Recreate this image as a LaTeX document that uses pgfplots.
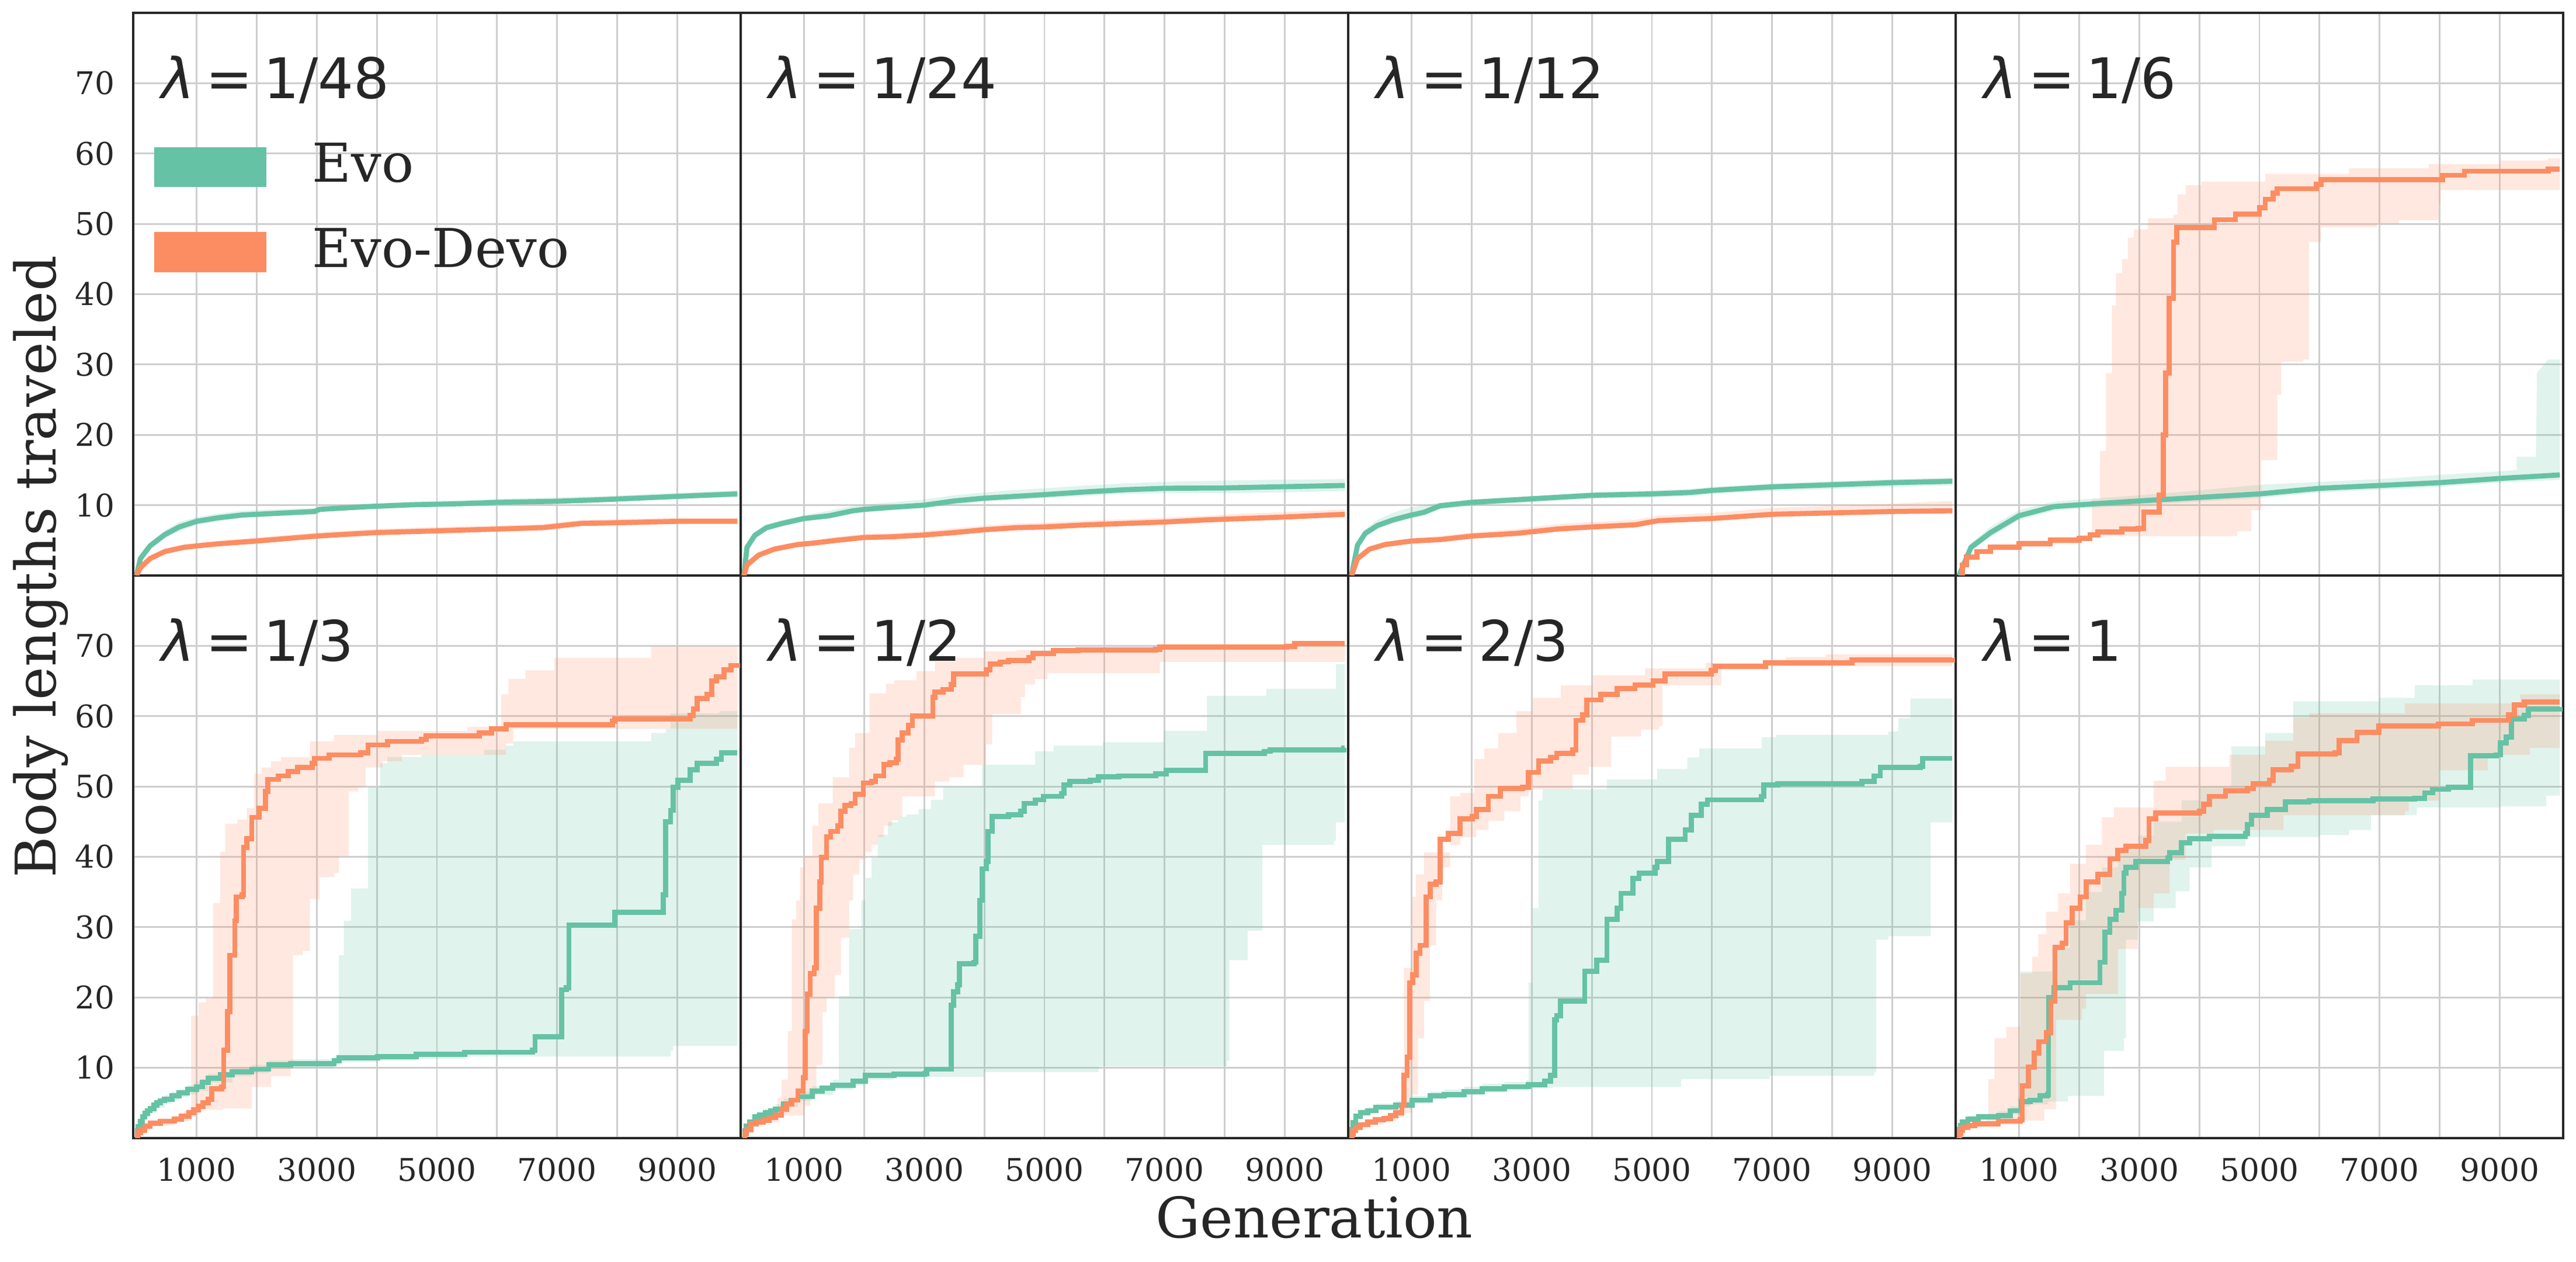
\documentclass[border=0pt]{standalone}
\usepackage{fontspec}
\setmainfont{DejaVu Serif}
\newfontfamily\lamfam{DejaVu Sans}
\usepackage{pgfplots}
\pgfplotsset{compat=1.18}
\usepgfplotslibrary{fillbetween}
\definecolor{evo}{RGB}{102,194,165}
\definecolor{devo}{RGB}{252,141,98}
\definecolor{axc}{RGB}{38,38,38}
\definecolor{gridc}{RGB}{206,206,206}

\newcommand{\lam}[1]{\node[anchor=base west, inner sep=0pt, font=\lamfam\fontsize{23}{27}\selectfont, text=axc] at (rel axis cs:0.046,0.848) {\textit{λ}\hspace{4.5pt}=\hspace{4.5pt}#1};}
\newcommand{\band}[5]{%
 \addplot[draw=none, forget plot, #3, name path=#1u] coordinates {#4};
 \addplot[draw=none, forget plot, #3, name path=#1l] coordinates {#5};
 \addplot[fill=#2, fill opacity=0.2, draw=none, forget plot] fill between[of=#1u and #1l];
}
\pgfplotsset{
 panel/.style={
  scale only axis, width=249.6pt, height=231.1pt,
  xmin=-55, xmax=10055, ymin=0, ymax=80,
  scaled ticks=false,
  xtick={1000,3000,5000,7000,9000}, minor xtick={2000,4000,6000,8000},
  ytick={10,20,30,40,50,60,70},
  xticklabels={}, yticklabels={},
  grid=both,
  major grid style={line width=0.7pt, draw=gridc},
  minor grid style={line width=0.7pt, draw=gridc},
  major tick length=0pt, minor tick length=0pt,
  tick style={draw=none},
  axis line style={line width=0.9pt, draw=axc},
  ticklabel style={font=\fontsize{12.8}{15}\selectfont, text=axc},
  yticklabel style={xshift=-4pt},
  xticklabel style={yshift=-4.6pt},
  anchor=south west,
 },
 xlab/.style={xticklabels={1000,3000,5000,7000,9000}},
 ylab/.style={yticklabels={10,20,30,40,50,60,70}},
 med/.style={line width=2.1pt, forget plot},
}

\begin{document}
\begin{tikzpicture}

% ---------------- lambda = 1/48
\begin{axis}[panel, ylab, at={(54.72pt,282pt)},
  legend cell align=left,
  legend style={at={(rel axis cs:0.0346,0.7685)}, anchor=north west, draw=none, fill=none,
    inner sep=0pt, outer sep=0pt, font=\fontsize{22}{26}\selectfont, text=axc,
    row sep=16.85pt, nodes={inner sep=0pt},
    /tikz/every odd column/.append style={column sep=19pt}}]
\band{ga}{evo}{sharp plot}{(0,0)(65,2.7)(225,4.7)(470,6.4)(710,7.6)(1000,8.3)(1355,8.8)(1760,9.2)(2240,9.4)(2965,9.6)(3050,9.9)(3855,10.2)(4580,10.5)(5390,10.7)(6030,10.9)(7000,11.1)(7805,11.3)(8610,11.6)(9420,11.9)(10000,12.1)}{(0,0)(65,2.1)(225,3.8)(470,5.3)(710,6.3)(1000,7.2)(1355,7.7)(1760,8.2)(2240,8.4)(2965,8.7)(3050,9.1)(3855,9.4)(4580,9.7)(5390,9.9)(6030,10.1)(7000,10.3)(7805,10.5)(8610,10.8)(9420,11.0)(10000,11.2)}
\band{oa}{devo}{sharp plot}{(0,0)(65,1.4)(225,2.8)(470,3.8)(790,4.4)(1000,4.6)(1355,4.9)(2000,5.4)(2565,5.8)(3000,6.1)(3370,6.3)(4000,6.6)(5010,6.9)(6010,7.1)(6760,7.3)(7080,7.6)(7400,7.9)(8010,8.0)(9015,8.2)(10000,8.2)}{(0,0)(65,0.9)(225,2.1)(470,3.1)(790,3.7)(1000,3.9)(1355,4.2)(2000,4.6)(2565,5.0)(3000,5.3)(3370,5.5)(4000,5.8)(5010,6.05)(6010,6.3)(6760,6.5)(7080,6.8)(7400,7.1)(8010,7.2)(9015,7.4)(10000,7.4)}
\addplot[med, evo] coordinates {(0,0)(65,2.4)(225,4.2)(470,5.8)(710,6.9)(1000,7.7)(1355,8.2)(1760,8.6)(2240,8.8)(2965,9.1)(3050,9.4)(3855,9.8)(4580,10.05)(5390,10.2)(6030,10.4)(7000,10.55)(7805,10.8)(8610,11.1)(9420,11.4)(10000,11.6)};
\addplot[med, devo] coordinates {(0,0)(65,1.1)(225,2.4)(470,3.4)(790,4.0)(1000,4.2)(1355,4.5)(2000,4.9)(2565,5.3)(3000,5.6)(3370,5.8)(4000,6.1)(5010,6.35)(6010,6.6)(6760,6.8)(7080,7.1)(7400,7.4)(8010,7.5)(9015,7.7)(10000,7.7)};
\addlegendimage{legend image code/.code={\fill[evo] (0pt,-9.15pt) rectangle (45.6pt,6.95pt);}}
\addlegendentry{Evo}
\addlegendimage{legend image code/.code={\fill[devo] (0pt,-9.15pt) rectangle (45.6pt,6.95pt);}}
\addlegendentry{Evo-Devo}
\lam{1/48}
\end{axis}

% ---------------- lambda = 1/24
\begin{axis}[panel, at={(304.32pt,282pt)}]
\band{gb}{evo}{sharp plot}{(0,0)(50,4.4)(180,6.2)(375,7.3)(635,7.9)(1000,8.6)(1420,9.2)(1810,9.9)(2000,10.1)(2460,10.4)(3000,10.8)(3500,11.4)(4000,11.8)(4410,12.1)(5000,12.4)(5710,12.8)(6360,13.1)(7000,13.3)(8000,13.5)(8840,13.6)(10000,13.7)}{(0,0)(50,3.6)(180,5.3)(375,6.4)(635,7.0)(1000,7.7)(1420,8.1)(1810,8.8)(2000,9.0)(2460,9.3)(3000,9.6)(3500,10.1)(4000,10.5)(4410,10.7)(5000,11.0)(5710,11.3)(6360,11.6)(7000,11.7)(8000,11.7)(8840,11.8)(10000,12.0)}
\band{ob}{devo}{sharp plot}{(0,0)(50,1.8)(245,3.2)(505,4.1)(895,4.8)(1155,5.0)(1545,5.5)(2000,5.9)(2460,6.0)(3000,6.3)(3500,6.7)(4000,7.1)(4540,7.4)(5000,7.5)(5710,7.8)(6360,8.0)(7000,8.2)(7670,8.5)(8320,8.8)(8970,9.0)(10000,9.4)}{(0,0)(50,1.2)(245,2.6)(505,3.45)(895,4.1)(1155,4.3)(1545,4.7)(2000,5.1)(2460,5.2)(3000,5.45)(3500,5.8)(4000,6.2)(4540,6.5)(5000,6.6)(5710,6.9)(6360,7.1)(7000,7.3)(7670,7.6)(8320,7.8)(8970,8.0)(10000,8.4)}
\addplot[med, evo] coordinates {(0,0)(50,4.0)(180,5.7)(375,6.8)(635,7.4)(1000,8.1)(1420,8.5)(1810,9.2)(2000,9.4)(2460,9.7)(3000,10.0)(3500,10.6)(4000,11.0)(4410,11.2)(5000,11.5)(5710,11.9)(6360,12.2)(7000,12.4)(8000,12.45)(8840,12.6)(10000,12.8)};
\addplot[med, devo] coordinates {(0,0)(50,1.5)(245,2.9)(505,3.75)(895,4.4)(1155,4.6)(1545,5.0)(2000,5.4)(2460,5.5)(3000,5.75)(3500,6.1)(4000,6.5)(4540,6.8)(5000,6.9)(5710,7.2)(6360,7.4)(7000,7.6)(7670,7.9)(8320,8.1)(8970,8.3)(10000,8.7)};
\lam{1/24}
\end{axis}

% ---------------- lambda = 1/12
\begin{axis}[panel, at={(553.92pt,282pt)}]
\band{gc}{evo}{sharp plot}{(0,0)(100,4.8)(230,6.6)(430,7.9)(690,8.9)(950,9.6)(1210,10.0)(1470,10.4)(2000,10.8)(3000,11.3)(4000,11.8)(5000,12.1)(5630,12.3)(6000,12.6)(7000,13.1)(8000,13.4)(9000,13.7)(10000,13.9)}{(0,0)(100,3.9)(230,5.5)(430,6.6)(690,7.4)(950,8.0)(1210,8.5)(1470,9.4)(2000,9.9)(3000,10.4)(4000,10.9)(5000,11.1)(5630,11.3)(6000,11.6)(7000,12.0)(8000,12.3)(9000,12.6)(10000,12.8)}
\band{oc}{devo}{sharp plot}{(0,0)(100,2.7)(300,4.1)(560,4.8)(1000,5.3)(1470,5.6)(2000,6.1)(2770,6.6)(3420,7.3)(4000,7.6)(4720,7.9)(5110,8.5)(6000,8.9)(7000,9.6)(8000,9.9)(9000,10.2)(10000,10.6)}{(0,0)(100,2.1)(300,3.45)(560,4.1)(1000,4.6)(1470,4.8)(2000,5.3)(2770,5.7)(3420,6.3)(4000,6.6)(4720,6.9)(5110,7.5)(6000,7.8)(7000,8.4)(8000,8.6)(9000,8.8)(10000,8.9)}
\addplot[med, evo] coordinates {(0,0)(100,4.3)(230,6.0)(430,7.1)(690,7.9)(950,8.5)(1210,9.0)(1470,9.9)(2000,10.4)(3000,10.9)(4000,11.4)(5000,11.6)(5630,11.8)(6000,12.1)(7000,12.6)(8000,12.9)(9000,13.2)(10000,13.4)};
\addplot[med, devo] coordinates {(0,0)(100,2.4)(300,3.75)(560,4.4)(1000,4.9)(1470,5.1)(2000,5.6)(2770,6.0)(3420,6.6)(4000,6.9)(4720,7.2)(5110,7.8)(6000,8.1)(7000,8.7)(8000,8.9)(9000,9.1)(10000,9.2)};
\lam{1/12}
\end{axis}

% ---------------- lambda = 1/6
\begin{axis}[panel, at={(803.52pt,282pt)}]
\band{gd}{evo}{sharp plot}{(0,0)(200,4.6)(525,6.9)(1000,9.3)(1580,10.5)(2000,10.8)(3000,11.4)(4000,12.1)(5000,12.9)(6000,13.3)(7000,13.7)(8000,14.3)(9000,14.8)(9280,15.0)(9280,16.9)(9600,16.9)(9620,28.8)(9800,30.7)(10000,30.7)}{(0,0)(200,3.5)(525,5.5)(1000,7.9)(1580,9.2)(2000,9.5)(3000,10.0)(4000,10.5)(5000,11.0)(6000,11.8)(7000,12.2)(8000,12.6)(9000,13.2)(10000,13.6)}
\band{od}{devo}{const plot}{(0,0)(60,1.8)(125,3.0)(300,3.8)(520,4.4)(1000,5.0)(1520,5.5)(2000,5.8)(2213,10.8)(2346,17.7)(2446,28.8)(2545,38.4)(2611,43)(2711,45)(2810,48)(2910,49.2)(3142,50.8)(3573,51.3)(3639,54.2)(3772,55.5)(4037,56.0)(5098,57.1)(6490,57.9)(7817,58.5)(9010,59.0)(9800,59.3)(10000,59.3)}{(0,0)(60,1.2)(125,2.3)(300,3.0)(520,3.6)(1000,4.1)(1520,4.5)(2000,5.0)(2147,5.6)(4634,6.3)(4866,9.3)(5032,16.4)(5297,25.7)(5363,30.4)(5728,30.7)(5827,47.4)(6026,49.5)(6954,50.0)(7319,50.5)(7983,52.9)(8016,54.8)(10000,55.0)}
\addplot[med, evo] coordinates {(0,0)(200,4.0)(525,6.1)(1000,8.5)(1580,9.8)(2000,10.05)(3000,10.6)(4000,11.1)(5000,11.6)(6000,12.4)(7000,12.8)(8000,13.2)(9000,13.8)(10000,14.3)};
\addplot[med, devo, const plot] coordinates {(0,0)(60,1.5)(125,2.6)(300,3.4)(520,4.0)(1000,4.5)(1520,5.0)(2000,5.3)(2180,5.8)(2310,6.2)(2710,6.6)(2980,6.7)(3075,9.0)(3330,11.4)(3400,20)(3440,28.8)(3500,39.4)(3570,47.4)(3626,49.5)(4250,50.6)(4600,51.4)(5000,52.3)(5098,53.5)(5231,54.4)(5297,55.0)(5947,55.6)(6026,56.3)(8049,56.9)(8413,57.5)(9806,57.8)(10000,57.8)};
\lam{1/6}
\end{axis}

% ---------------- lambda = 1/3
\begin{axis}[panel, ylab, xlab, at={(54.72pt,50.9pt)}]
\band{ge}{evo}{const plot}{(0,0)(30,1.8)(65,2.9)(140,4.0)(226,4.8)(340,5.5)(468,6.1)(590,6.6)(710,7.0)(850,7.5)(1000,8.0)(1193,9.1)(1596,10.0)(1919,10.4)(2201,11.0)(2563,11.2)(3288,11.6)(3369,26.0)(3450,30.9)(3571,35.5)(3853,49.9)(4054,53.3)(4175,54.2)(4739,54.5)(5787,55.2)(6149,55.8)(6270,56.4)(8567,57.6)(8808,58.2)(8889,60.4)(9700,60.7)(10000,60.7)}{(0,0)(30,1.0)(65,1.9)(140,3.0)(226,3.6)(340,4.3)(468,4.9)(590,5.4)(710,5.8)(850,6.2)(1000,6.7)(1193,7.9)(1596,8.8)(1919,9.2)(2201,9.8)(2563,10.0)(3288,10.4)(3369,10.8)(4014,11.0)(4658,11.3)(5464,11.6)(8889,12.4)(8929,13.1)(10000,13.3)}
\band{oe}{devo}{const plot}{(0,0)(30,0.8)(65,1.2)(140,2.0)(226,2.5)(629,3.2)(790,3.9)(911,17.4)(1032,19.3)(1153,19.9)(1274,33.4)(1395,40.7)(1475,44.7)(1677,45.3)(1838,46.9)(1959,51.8)(2080,52.7)(2241,53.6)(2402,54.2)(2886,56.4)(3289,57.3)(4014,57.9)(5504,58.5)(6069,63.1)(6189,65.3)(6471,66.5)(6955,68.3)(8567,69.9)(10000,69.9)}{(0,0)(30,0.4)(65,0.7)(140,1.3)(226,1.8)(629,2.4)(871,3.3)(1032,4.0)(1435,4.2)(1919,7.3)(2241,8.8)(2563,9.8)(2604,26.0)(2765,26.6)(2886,34.0)(3047,37.1)(3289,37.7)(3369,40.1)(3530,49.3)(3691,49.9)(3812,52.7)(4094,53.6)(4417,54.5)(6149,56.1)(6270,58.2)(10000,58.5)}
\addplot[med, evo, const plot] coordinates {(0,0)(15,1.0)(30,1.6)(65,2.4)(100,3.0)(140,3.5)(180,3.9)(226,4.2)(290,4.7)(340,5.0)(400,5.3)(468,5.5)(590,6.0)(710,6.4)(850,6.9)(1000,7.3)(1100,7.9)(1193,8.5)(1400,9.0)(1596,9.4)(1919,9.8)(2201,10.4)(2563,10.6)(3288,11.0)(3369,11.4)(4014,11.6)(4658,11.9)(5464,12.2)(6592,12.5)(6633,14.4)(7076,21.1)(7156,21.4)(7197,30.3)(7962,32.1)(8768,34.6)(8808,45.0)(8889,46.6)(8929,49.9)(9010,50.9)(9211,52.4)(9332,53.3)(9655,53.9)(9735,54.8)(10000,54.8)};
\addplot[med, devo, const plot] coordinates {(0,0)(15,0.5)(30,0.8)(65,1.1)(140,1.7)(226,2.1)(400,2.4)(629,2.7)(750,3.1)(871,3.6)(950,4.0)(1032,4.5)(1110,5.0)(1193,5.5)(1250,7.0)(1419,7.3)(1451,12.5)(1516,18.0)(1556,26.0)(1637,30.9)(1661,34.3)(1757,34.6)(1782,41.3)(1838,42.6)(1919,45.6)(2039,46.9)(2144,49.3)(2185,51.0)(2362,51.5)(2523,52.1)(2684,52.7)(2926,53.3)(2966,54.0)(3208,54.5)(3732,54.8)(3853,55.9)(4175,56.4)(4739,56.7)(4820,57.2)(5706,57.6)(5907,58.2)(6149,58.8)(7922,59.3)(7962,59.6)(9211,60.1)(9268,61.0)(9333,62.5)(9494,63.1)(9574,65.0)(9655,65.6)(9776,66.6)(9897,67.2)(10000,67.5)};
\lam{1/3}
\end{axis}

% ---------------- lambda = 1/2
\begin{axis}[panel, xlab, at={(304.32pt,50.9pt)}]
\band{gf}{evo}{const plot}{(0,0)(13,1.2)(60,2.4)(120,3.1)(183,3.5)(353,4.2)(524,4.8)(660,5.6)(898,6.6)(1136,7.4)(1476,8.3)(1579,20.2)(1749,29.7)(1953,33.8)(2021,37.0)(2123,39.9)(2225,43.1)(2395,44.9)(2566,45.7)(2702,46.0)(2906,46.8)(3110,48.1)(3314,49.9)(3961,53.1)(4846,55.0)(5152,55.8)(5969,56.3)(6990,57.9)(7705,62.9)(8692,63.9)(9849,67.4)(10000,68.0)}{(0,0)(13,0.7)(60,1.6)(120,2.1)(183,2.5)(353,3.1)(524,3.6)(660,4.4)(898,5.3)(1136,6.1)(1476,6.9)(1817,7.5)(2021,8.3)(2498,8.6)(3008,8.7)(3995,9.4)(5901,10.2)(8045,11.0)(8079,25.3)(8385,29.5)(8624,41.7)(9815,42.3)(9849,44.9)(10000,44.9)}
\band{of}{devo}{const plot}{(0,0)(13,0.8)(60,1.6)(115,2.4)(200,2.7)(319,3.0)(455,3.6)(558,5.7)(626,8.3)(728,15.2)(796,31.1)(864,33.8)(932,38.5)(1000,40.1)(1136,44.4)(1238,47.6)(1476,51.3)(1749,55.5)(1851,57.6)(2089,63.2)(2361,64.6)(2498,65.1)(2872,66.4)(3178,67.7)(3519,68.3)(3995,69.2)(4540,69.4)(7000,70.0)(9000,70.4)(10000,70.6)}{(0,0)(13,0.4)(60,1.0)(115,1.7)(200,2.0)(319,2.2)(592,3.2)(1000,4.6)(1102,6.2)(1204,10.4)(1306,17.9)(1374,20.0)(1511,23.2)(1613,28.5)(1749,33.8)(1817,37.5)(1919,39.6)(2021,40.7)(2123,41.7)(2225,42.8)(2327,44.4)(2463,45.2)(2566,45.7)(2634,48.6)(3178,50.7)(3416,51.3)(3655,53.1)(4029,56.0)(4131,60.3)(4608,62.7)(4676,64.5)(4846,65.3)(5050,66.1)(6922,67.7)(10000,68.8)}
\addplot[med, evo, const plot] coordinates {(0,0)(13,1.0)(40,1.7)(90,2.3)(183,3.0)(260,3.3)(353,3.6)(440,3.9)(524,4.1)(660,4.9)(780,5.4)(898,5.9)(1136,6.7)(1300,7.1)(1476,7.5)(1817,8.1)(2021,8.9)(2498,9.1)(3008,9.2)(3042,9.8)(3450,18.9)(3485,20.8)(3553,21.8)(3587,24.8)(3825,25.0)(3859,28.7)(3927,33.8)(3961,38.3)(4029,39.3)(4063,43.6)(4131,45.7)(4404,46.0)(4608,46.5)(4662,47.6)(4846,48.1)(4982,48.6)(5288,49.0)(5322,50.2)(5424,50.7)(5765,50.9)(5901,51.4)(6241,51.5)(6854,51.8)(7024,52.3)(7684,54.7)(8658,55.0)(8760,55.2)(9985,55.5)(10000,55.5)};
\addplot[med, devo, const plot] coordinates {(0,0)(13,0.6)(40,1.2)(115,2.0)(200,2.3)(319,2.5)(420,2.9)(524,3.3)(626,4.1)(710,4.8)(796,5.4)(898,6.7)(986,8.6)(1020,15.2)(1054,20.5)(1102,23.4)(1170,24.2)(1204,32.7)(1259,36.4)(1286,39.9)(1374,42.8)(1442,43.6)(1558,44.4)(1613,46.5)(1681,47.3)(1783,47.6)(1851,48.9)(1987,50.5)(2123,50.7)(2191,51.5)(2327,53.1)(2429,53.4)(2532,53.9)(2566,56.6)(2634,57.6)(2736,58.7)(2804,60.0)(3144,62.7)(3178,63.4)(3314,63.8)(3450,64.5)(3485,66.0)(4029,66.6)(4097,67.4)(4267,67.7)(4404,67.9)(4744,68.3)(4812,68.9)(5152,69.3)(5561,69.4)(6854,69.5)(6922,69.8)(9032,69.9)(9168,70.3)(10000,70.3)};
\lam{1/2}
\end{axis}

% ---------------- lambda = 2/3
\begin{axis}[panel, xlab, at={(553.92pt,50.9pt)}]
\band{gg}{evo}{const plot}{(0,0)(20,1.8)(70,3.5)(150,4.1)(271,4.4)(405,4.9)(739,5.3)(1007,6.0)(1308,6.6)(1542,6.9)(1876,7.3)(2177,7.7)(2545,8.0)(2913,8.3)(2947,22.1)(3013,32.7)(3114,48.0)(3181,49.6)(4251,51.0)(5087,52.5)(5589,54.1)(5789,55.4)(6826,57.0)(7060,57.3)(8933,57.8)(9100,59.7)(9301,62.5)(10000,62.6)}{(0,0)(20,1.0)(70,2.7)(150,3.2)(271,3.5)(405,3.9)(739,4.2)(1007,4.9)(1308,5.5)(1542,5.7)(1876,6.1)(2177,6.5)(2545,6.8)(2947,7.1)(3348,7.3)(5488,8.4)(6960,8.9)(8699,9.4)(8733,28.2)(8933,28.7)(9636,44.9)(10000,45.1)}
\band{og}{devo}{const plot}{(0,0)(20,0.9)(70,1.8)(150,2.3)(271,2.7)(538,3.3)(739,4.1)(839,10.0)(873,24.2)(1007,34.3)(1074,37.5)(1207,40.6)(1642,48.6)(1809,49.1)(2043,53.9)(2211,55.4)(2445,57.6)(2746,60.7)(3013,62.6)(3482,64.4)(4017,65.8)(4886,66.8)(5890,67.6)(7228,68.4)(7896,68.8)(10000,68.9)}{(0,0)(20,0.5)(70,1.2)(150,1.6)(271,2.0)(538,2.5)(739,3.0)(873,3.6)(1007,6.2)(1107,14.2)(1207,19.5)(1308,27.4)(1408,33.8)(1508,38.5)(1642,41.7)(1809,42.8)(2077,43.8)(2278,45.1)(2545,46.5)(2813,48.6)(2947,49.6)(3682,51.7)(3950,52.8)(4318,57.1)(4819,58.1)(5120,58.6)(5174,64.4)(6157,66.8)(6893,67.1)(10000,67.5)}
\addplot[med, evo, const plot] coordinates {(0,0)(10,1.2)(30,2.2)(70,3.1)(150,3.6)(271,3.9)(405,4.4)(739,4.7)(1007,5.4)(1308,6.0)(1542,6.2)(1876,6.6)(2177,7.0)(2545,7.3)(2947,7.6)(3214,8.1)(3314,8.9)(3381,16.8)(3415,17.4)(3482,19.5)(3883,23.7)(4084,25.3)(4251,31.1)(4418,32.7)(4485,34.8)(4686,36.9)(4786,37.7)(5054,38.5)(5087,39.3)(5274,42.5)(5555,43.8)(5656,45.9)(5823,47.5)(5923,48.1)(6826,48.6)(6860,50.2)(7094,50.4)(8498,50.7)(8699,51.5)(8800,52.7)(9468,52.9)(9502,54.0)(10000,54.0)};
\addplot[med, devo, const plot] coordinates {(0,0)(10,0.6)(30,1.1)(70,1.5)(150,1.9)(271,2.3)(400,2.6)(538,2.8)(650,3.2)(739,3.6)(839,4.7)(873,8.9)(926,11.5)(973,22.1)(1020,23.2)(1074,26.3)(1140,27.4)(1241,34.3)(1308,36.1)(1408,36.4)(1475,42.5)(1609,43.3)(1809,45.4)(2010,45.7)(2077,46.7)(2278,48.6)(2478,49.7)(2846,49.9)(2947,52.0)(3114,53.6)(3314,54.1)(3415,54.7)(3682,55.2)(3736,59.4)(3850,60.2)(3916,62.3)(4151,63.1)(4418,63.9)(4719,64.4)(5020,65.0)(5221,66.0)(5990,66.5)(6057,67.1)(6893,67.6)(8331,68.0)(10000,68.3)};
\lam{2/3}
\end{axis}

% ---------------- lambda = 1
\begin{axis}[panel, xlab, at={(803.52pt,50.9pt)}]
\band{gh}{evo}{const plot}{(0,0)(20,1.5)(58,2.7)(150,3.2)(324,3.5)(655,3.8)(854,4.5)(987,6.0)(1020,23.7)(1550,27.0)(1849,31.0)(2114,35.0)(2379,38.5)(2645,41.0)(2976,43.0)(3241,45.0)(3705,48.0)(4004,50.0)(4534,55.7)(5098,57.6)(5562,62.1)(6988,62.6)(7584,64.4)(8546,65.2)(10000,65.2)}{(0,0)(20,0.9)(58,1.9)(150,2.3)(324,2.6)(655,2.8)(854,3.4)(1040,4.5)(1186,4.8)(1484,5.2)(1816,6.0)(2412,12.4)(2744,14.2)(2777,28.2)(2976,30.8)(3241,32.7)(3606,35.1)(3838,38.5)(4203,41.5)(4766,42.8)(5993,43.1)(6490,43.8)(6855,45.9)(7618,47.0)(9010,47.2)(9773,48.7)(10000,48.7)}
\band{oh}{devo}{const plot}{(0,0)(20,0.9)(58,1.8)(150,2.1)(257,2.4)(456,2.8)(489,8.4)(589,14.2)(788,15.8)(1020,23.4)(1219,25.8)(1318,29.0)(1451,32.2)(1650,34.8)(1849,39.0)(2114,41.7)(2379,45.6)(2578,47.0)(3241,50.8)(3440,52.8)(4501,54.5)(5098,56.5)(5562,59.8)(5827,60.4)(7419,61.8)(9342,63.1)(10000,63.4)}{(0,0)(20,0.5)(58,1.2)(150,1.4)(257,1.6)(655,1.9)(1053,2.5)(1418,4.1)(1617,16.8)(2048,18.4)(2114,20.5)(2645,26.9)(2976,32.7)(3241,34.8)(3507,39.6)(3772,43.3)(4236,43.8)(5396,45.9)(7419,46.5)(7485,48.0)(7982,52.3)(8800,54.5)(9500,55.5)(10000,56.0)}
\addplot[med, evo, const plot] coordinates {(0,0)(10,1.2)(30,1.8)(58,2.3)(150,2.7)(324,3.0)(655,3.2)(854,3.9)(1040,5.2)(1186,5.4)(1351,6.0)(1471,6.2)(1491,20.0)(1584,21.4)(1849,22.1)(2346,25.0)(2432,29.3)(2512,31.1)(2611,32.4)(2711,34.8)(2744,37.7)(2777,38.5)(2943,39.3)(3473,39.8)(3507,40.6)(3705,42.0)(3838,42.6)(4170,42.9)(4766,43.3)(4800,44.6)(4866,45.9)(5131,46.7)(5430,47.8)(5827,48.0)(6888,48.2)(7584,48.3)(7750,49.1)(7883,49.6)(8148,49.9)(8513,54.4)(8944,54.5)(9010,56.2)(9110,57.0)(9196,59.6)(9408,60.1)(9474,61.0)(10000,61.3)};
\addplot[med, devo, const plot] coordinates {(0,0)(10,0.7)(30,1.1)(58,1.5)(150,1.8)(257,2.0)(655,2.4)(1020,2.6)(1053,7.4)(1153,10.1)(1252,12.1)(1332,13.7)(1451,15.0)(1530,19.5)(1597,27.1)(1716,27.7)(1782,30.6)(1882,32.7)(2015,34.3)(2114,36.4)(2313,37.5)(2512,39.7)(2645,40.9)(2777,41.5)(3109,42.3)(3162,45.4)(3274,46.2)(4004,46.5)(4070,47.5)(4170,48.6)(4435,49.4)(4800,49.7)(4899,50.4)(5164,50.9)(5231,52.4)(5529,52.9)(5642,54.6)(6258,54.8)(6325,56.5)(6623,57.7)(6988,58.6)(7982,58.9)(8546,59.4)(9143,60.2)(9242,61.6)(9408,62.0)(10000,62.0)};
\lam{1}
\end{axis}

\node[anchor=base, inner sep=0pt, font=\fontsize{23}{27}\selectfont, text=axc] at (540pt,9.84pt) {Generation};
\node[rotate=90, anchor=base, inner sep=0pt, font=\fontsize{23}{27}\selectfont, text=axc] at (22.8pt,285.6pt) {Body lengths traveled};
\pgfresetboundingbox
\useasboundingbox (0,0) rectangle (1058.4pt,518.4pt);
\end{tikzpicture}
\end{document}
